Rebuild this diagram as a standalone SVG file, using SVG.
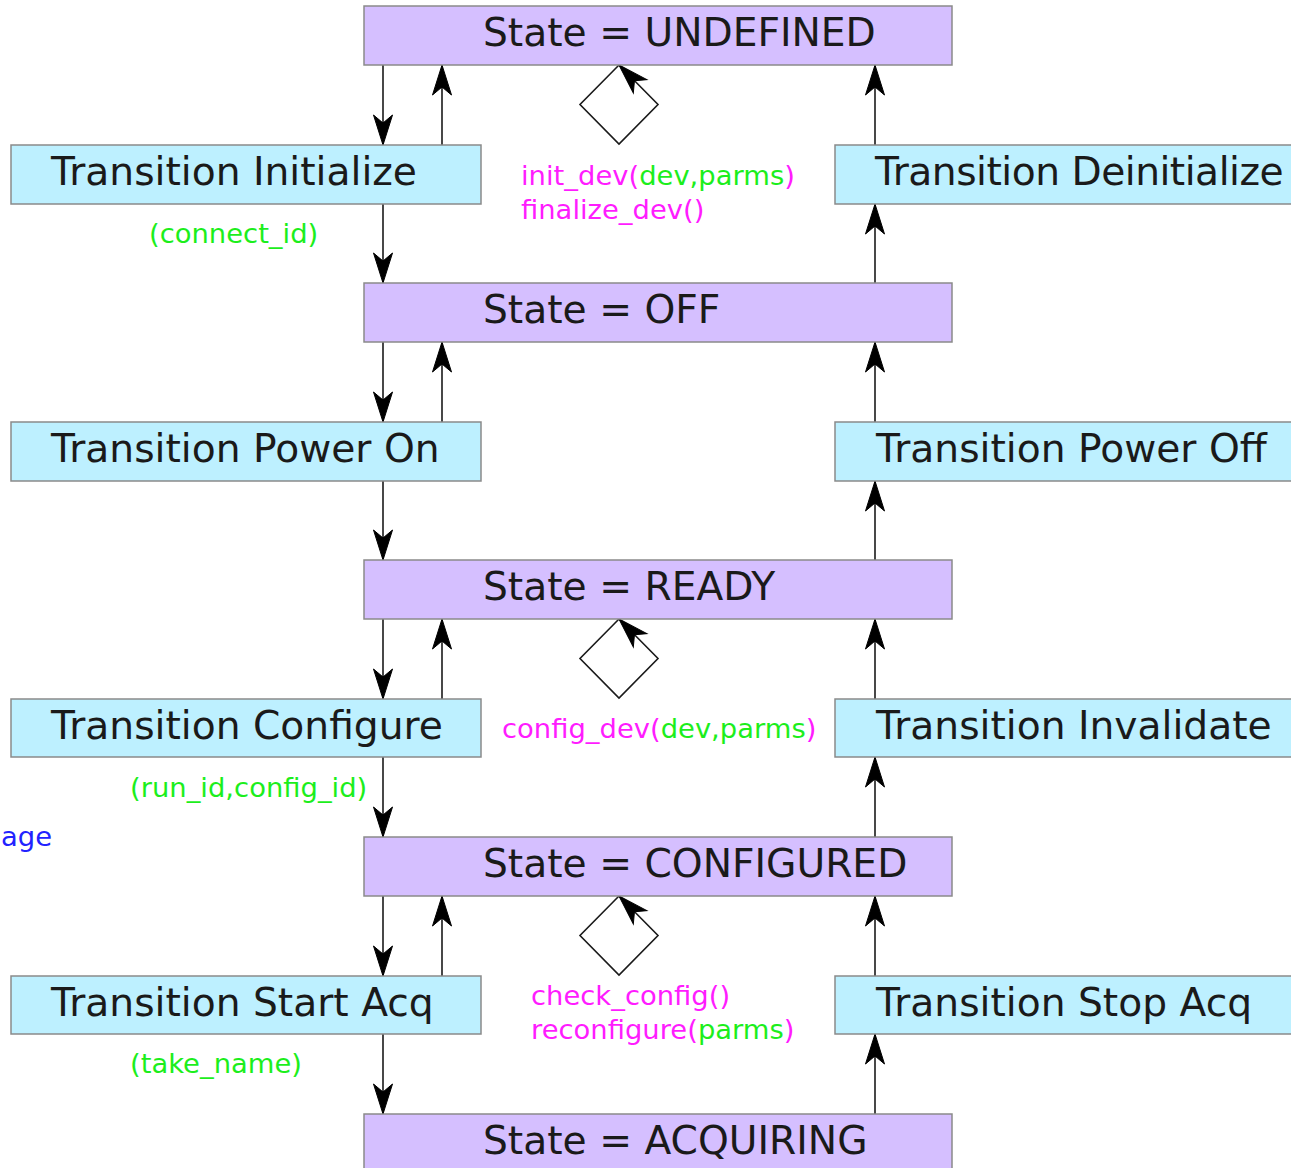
<svg xmlns="http://www.w3.org/2000/svg" width="1291" height="1168" viewBox="0 0 1291 1168">
  <style>
    .state rect { fill: #d5bfff; stroke: #8a8a8a; stroke-width: 1.5; }
    .trans rect { fill: #bdf0ff; stroke: #8a8a8a; stroke-width: 1.5; }
    .big { font-family: "DejaVu Sans", sans-serif; font-size: 39.2px; fill: #1a1a1a; }
    .lbl { font-family: "DejaVu Sans", sans-serif; font-size: 27.4px; }
    .fn { fill: #ff1cff; }
    .arg { fill: #1cee1c; }
    .note { fill: #2222ff; }
    .edge { fill: none; stroke: #1a1a1a; stroke-width: 1.6; marker-end: url(#head); }
    .loop { fill: none; stroke: #1a1a1a; stroke-width: 1.6; marker-end: url(#head); }
  </style>
  <defs>
    <!-- solid dart arrowhead with a shallow notch -->
    <marker id="head" viewBox="-32 -11 33 22" refX="0" refY="0" markerWidth="33" markerHeight="22" orient="auto" markerUnits="userSpaceOnUse">
      <path d="M0,0 L-30,-9.5 L-22,0 L-30,9.5 Z" fill="#000" stroke="#000" stroke-width="1" stroke-linejoin="miter"/>
    </marker>
  </defs>

  <rect width="1291" height="1168" fill="#fff"/>

  <!-- connectors -->
  <g id="connectors">
    <!-- left column: downward -->
    <path class="edge" d="M383,65 V145"/>
    <path class="edge" d="M383,204 V283"/>
    <path class="edge" d="M383,342 V422"/>
    <path class="edge" d="M383,481 V560"/>
    <path class="edge" d="M383,619 V699"/>
    <path class="edge" d="M383,757 V837"/>
    <path class="edge" d="M383,896 V976"/>
    <path class="edge" d="M383,1034 V1114"/>
    <!-- left column: upward -->
    <path class="edge" d="M442,145 V65"/>
    <path class="edge" d="M442,422 V342"/>
    <path class="edge" d="M442,699 V619"/>
    <path class="edge" d="M442,976 V896"/>
    <!-- right column: upward -->
    <path class="edge" d="M875,145 V65"/>
    <path class="edge" d="M875,283 V204"/>
    <path class="edge" d="M875,422 V342"/>
    <path class="edge" d="M875,560 V481"/>
    <path class="edge" d="M875,699 V619"/>
    <path class="edge" d="M875,837 V757"/>
    <path class="edge" d="M875,976 V896"/>
    <path class="edge" d="M875,1114 V1034"/>
    <!-- self loops -->
    <path class="loop" d="M619,65 L580,104.5 L619,144 L658,104.5 L619,65"/>
    <path class="loop" d="M619,619 L580,658.5 L619,698 L658,658.5 L619,619"/>
    <path class="loop" d="M619,896 L580,935.5 L619,975 L658,935.5 L619,896"/>
  </g>

  <!-- states -->
  <g id="state-undefined" class="state">
    <rect x="364" y="6" width="588" height="59"/>
    <text class="big" x="483" y="46">State = UNDEFINED</text>
  </g>
  <g id="state-off" class="state">
    <rect x="364" y="283" width="588" height="59"/>
    <text class="big" x="483" y="323">State = OFF</text>
  </g>
  <g id="state-ready" class="state">
    <rect x="364" y="560" width="588" height="59"/>
    <text class="big" x="483" y="600">State = READY</text>
  </g>
  <g id="state-configured" class="state">
    <rect x="364" y="837" width="588" height="59"/>
    <text class="big" x="483" y="877">State = CONFIGURED</text>
  </g>
  <g id="state-acquiring" class="state">
    <rect x="364" y="1114" width="588" height="59"/>
    <text class="big" x="483" y="1154">State = ACQUIRING</text>
  </g>

  <!-- transitions, left -->
  <g id="t-initialize" class="trans">
    <rect x="11" y="145" width="470" height="59"/>
    <text class="big" x="51" y="185">Transition Initialize</text>
  </g>
  <g id="t-power-on" class="trans">
    <rect x="11" y="422" width="470" height="59"/>
    <text class="big" x="51" y="462">Transition Power On</text>
  </g>
  <g id="t-configure" class="trans">
    <rect x="11" y="699" width="470" height="58"/>
    <text class="big" x="51" y="739">Transition Configure</text>
  </g>
  <g id="t-start-acq" class="trans">
    <rect x="11" y="976" width="470" height="58"/>
    <text class="big" x="51" y="1016">Transition Start Acq</text>
  </g>

  <!-- transitions, right -->
  <g id="t-deinitialize" class="trans">
    <rect x="835" y="145" width="470" height="59"/>
    <text class="big" x="875" y="185" letter-spacing="-0.5">Transition Deinitialize</text>
  </g>
  <g id="t-power-off" class="trans">
    <rect x="835" y="422" width="470" height="59"/>
    <text class="big" x="876" y="462">Transition Power Off</text>
  </g>
  <g id="t-invalidate" class="trans">
    <rect x="835" y="699" width="470" height="58"/>
    <text class="big" x="876" y="739">Transition Invalidate</text>
  </g>
  <g id="t-stop-acq" class="trans">
    <rect x="835" y="976" width="470" height="58"/>
    <text class="big" x="876" y="1016">Transition Stop Acq</text>
  </g>

  <!-- call labels -->
  <g id="labels" class="lbl">
    <text class="arg" x="149" y="243">(connect_id)</text>
    <text x="521" y="185"><tspan class="fn">init_dev(</tspan><tspan class="arg">dev,parms</tspan><tspan class="fn">)</tspan></text>
    <text class="fn" x="521" y="219">finalize_dev()</text>
    <text x="502" y="738"><tspan class="fn">config_dev(</tspan><tspan class="arg">dev,parms</tspan><tspan class="fn">)</tspan></text>
    <text class="arg" x="130" y="797">(run_id,config_id)</text>
    <text class="note" x="1" y="846">age</text>
    <text class="fn" x="531" y="1005">check_config()</text>
    <text x="531" y="1039"><tspan class="fn">reconfigure(</tspan><tspan class="arg">parms</tspan><tspan class="fn">)</tspan></text>
    <text class="arg" x="130" y="1073">(take_name)</text>
  </g>
</svg>
